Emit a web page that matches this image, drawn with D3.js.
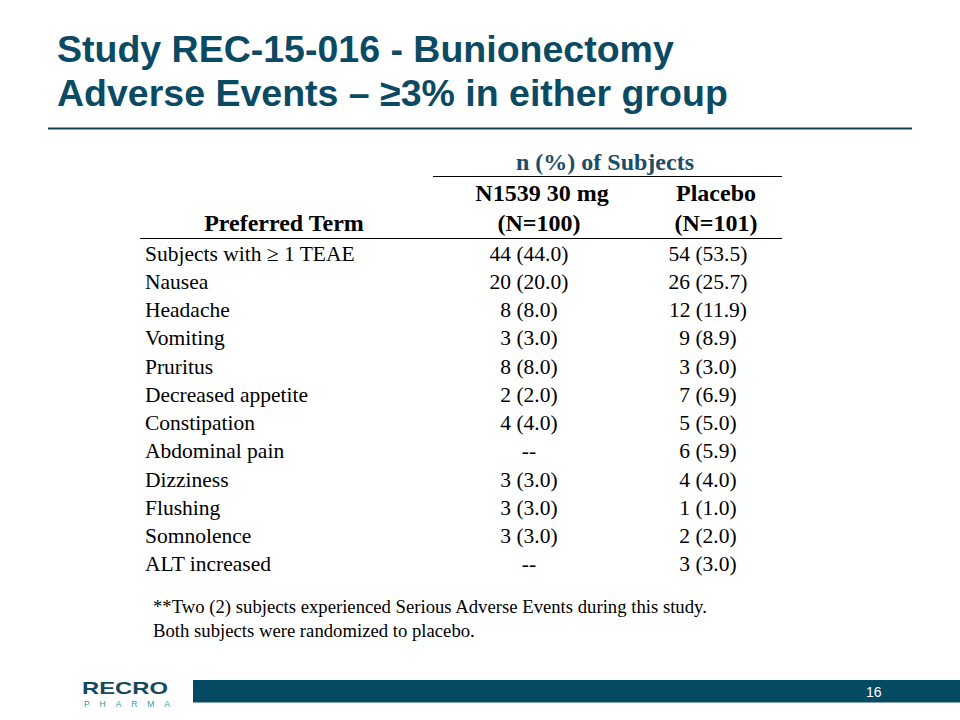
<!DOCTYPE html>
<html><head><meta charset="utf-8">
<script src="https://cdn.jsdelivr.net/npm/d3@7"></script>
<style>body{margin:0;background:#fff}svg{display:block}</style>
</head><body>
<script>
const titleLines = ["Study REC-15-016 - Bunionectomy", "Adverse Events \u2013 \u22653% in either group"];
const terms = ["Subjects with \u2265 1 TEAE","Nausea","Headache","Vomiting","Pruritus","Decreased appetite","Constipation","Abdominal pain","Dizziness","Flushing","Somnolence","ALT increased"];
const drugN = [44,20,8,3,8,2,4,null,3,3,3,null];
const drugPct = [44.0,20.0,8.0,3.0,8.0,2.0,4.0,null,3.0,3.0,3.0,null];
const placeboN = [54,26,12,9,3,7,5,6,4,1,2,3];
const placeboPct = [53.5,25.7,11.9,8.9,3.0,6.9,5.0,5.9,4.0,1.0,2.0,3.0];
const groupHeader = "n (%) of Subjects";
const colHeads1 = ["", "N1539 30 mg", "Placebo"];
const colHeads2 = ["Preferred Term", "(N=100)", "(N=101)"];
const footnotes = ["**Two (2) subjects experienced Serious Adverse Events during this study.", "Both subjects were randomized to placebo."];
const pageNum = "16";

const W=960,H=720;
const teal="#0b4a63";
const sans="Liberation Sans, Arial, sans-serif";
const serif="Liberation Serif, Times New Roman, serif";
const svg=d3.select("body").append("svg").attr("width",W).attr("height",H);

// title
svg.selectAll("text.title").data(titleLines).join("text")
  .attr("x",57).attr("y",(d,i)=>62+i*44)
  .attr("font-family",sans).attr("font-weight","bold")
  .attr("font-size",37.5).attr("fill",teal).text(d=>d);
svg.append("line").attr("x1",48).attr("x2",912).attr("y1",128.5).attr("y2",128.5)
  .attr("stroke","#163f52").attr("stroke-width",2.2);

const headX=[284,542,716];
const fmt=(n,p)=> n==null ? "--" : `${n} (${d3.format(".1f")(p)})`;

// headers
svg.append("text").attr("x",605).attr("y",170).attr("text-anchor","middle")
  .attr("font-family",serif).attr("font-weight","bold").attr("font-size",24).attr("fill","#1d4d66").text(groupHeader);
svg.append("line").attr("x1",433).attr("x2",782).attr("y1",176.5).attr("y2",176.5).attr("stroke","#000").attr("stroke-width",1.2);
svg.selectAll("text.h1").data(colHeads1).join("text")
  .attr("x",(d,i)=>headX[i]).attr("y",201).attr("text-anchor","middle")
  .attr("font-family",serif).attr("font-weight","bold").attr("font-size",24).attr("fill","#000").text(d=>d);
svg.selectAll("text.h2").data(colHeads2).join("text")
  .attr("x",(d,i)=>headX[i]+(i===1?-3:0)).attr("y",231).attr("text-anchor","middle")
  .attr("font-family",serif).attr("font-weight","bold").attr("font-size",24).attr("fill","#000").text(d=>d);
svg.append("line").attr("x1",140).attr("x2",782).attr("y1",238.5).attr("y2",238.5).attr("stroke","#000").attr("stroke-width",1.2);

// rows
const y=d3.scaleBand().domain(d3.range(terms.length)).range([240,579]);
const rows=svg.selectAll("g.row").data(terms.map((t,i)=>({t,i}))).join("g")
  .attr("transform",d=>`translate(0,${y(d.i)+y.bandwidth()/2+6.5})`)
  .attr("font-family",serif).attr("font-size",21.5).attr("fill","#000");
rows.append("text").attr("x",145).text(d=>d.t);
rows.append("text").attr("x",529).attr("text-anchor","middle").text(d=>fmt(drugN[d.i],drugPct[d.i]));
rows.append("text").attr("x",708).attr("text-anchor","middle").text(d=>fmt(placeboN[d.i],placeboPct[d.i]));

// footnotes
svg.selectAll("text.fn").data(footnotes).join("text")
  .attr("x",153).attr("y",(d,i)=>613+i*24)
  .attr("font-family",serif).attr("font-size",18.7).attr("fill","#000").text(d=>d);

// footer
svg.append("rect").attr("x",193).attr("y",680).attr("width",W-193).attr("height",22.5).attr("fill","#054a63");
svg.append("text").attr("x",866).attr("y",697).attr("font-family",sans)
  .attr("font-size",14).attr("fill","#fff").text(pageNum);
svg.append("text").attr("x",82).attr("y",694).attr("font-family",sans)
  .attr("font-weight","900").attr("font-size",17).attr("fill","#134a5e").attr("textLength",86).attr("lengthAdjust","spacingAndGlyphs").text("RECRO");
svg.append("text").attr("x",84).attr("y",707).attr("font-family",sans)
  .attr("font-size",8.5).attr("fill","#2a9aa8").attr("textLength",86).attr("lengthAdjust","spacing").text("PHARMA");
</script>
</body></html>
